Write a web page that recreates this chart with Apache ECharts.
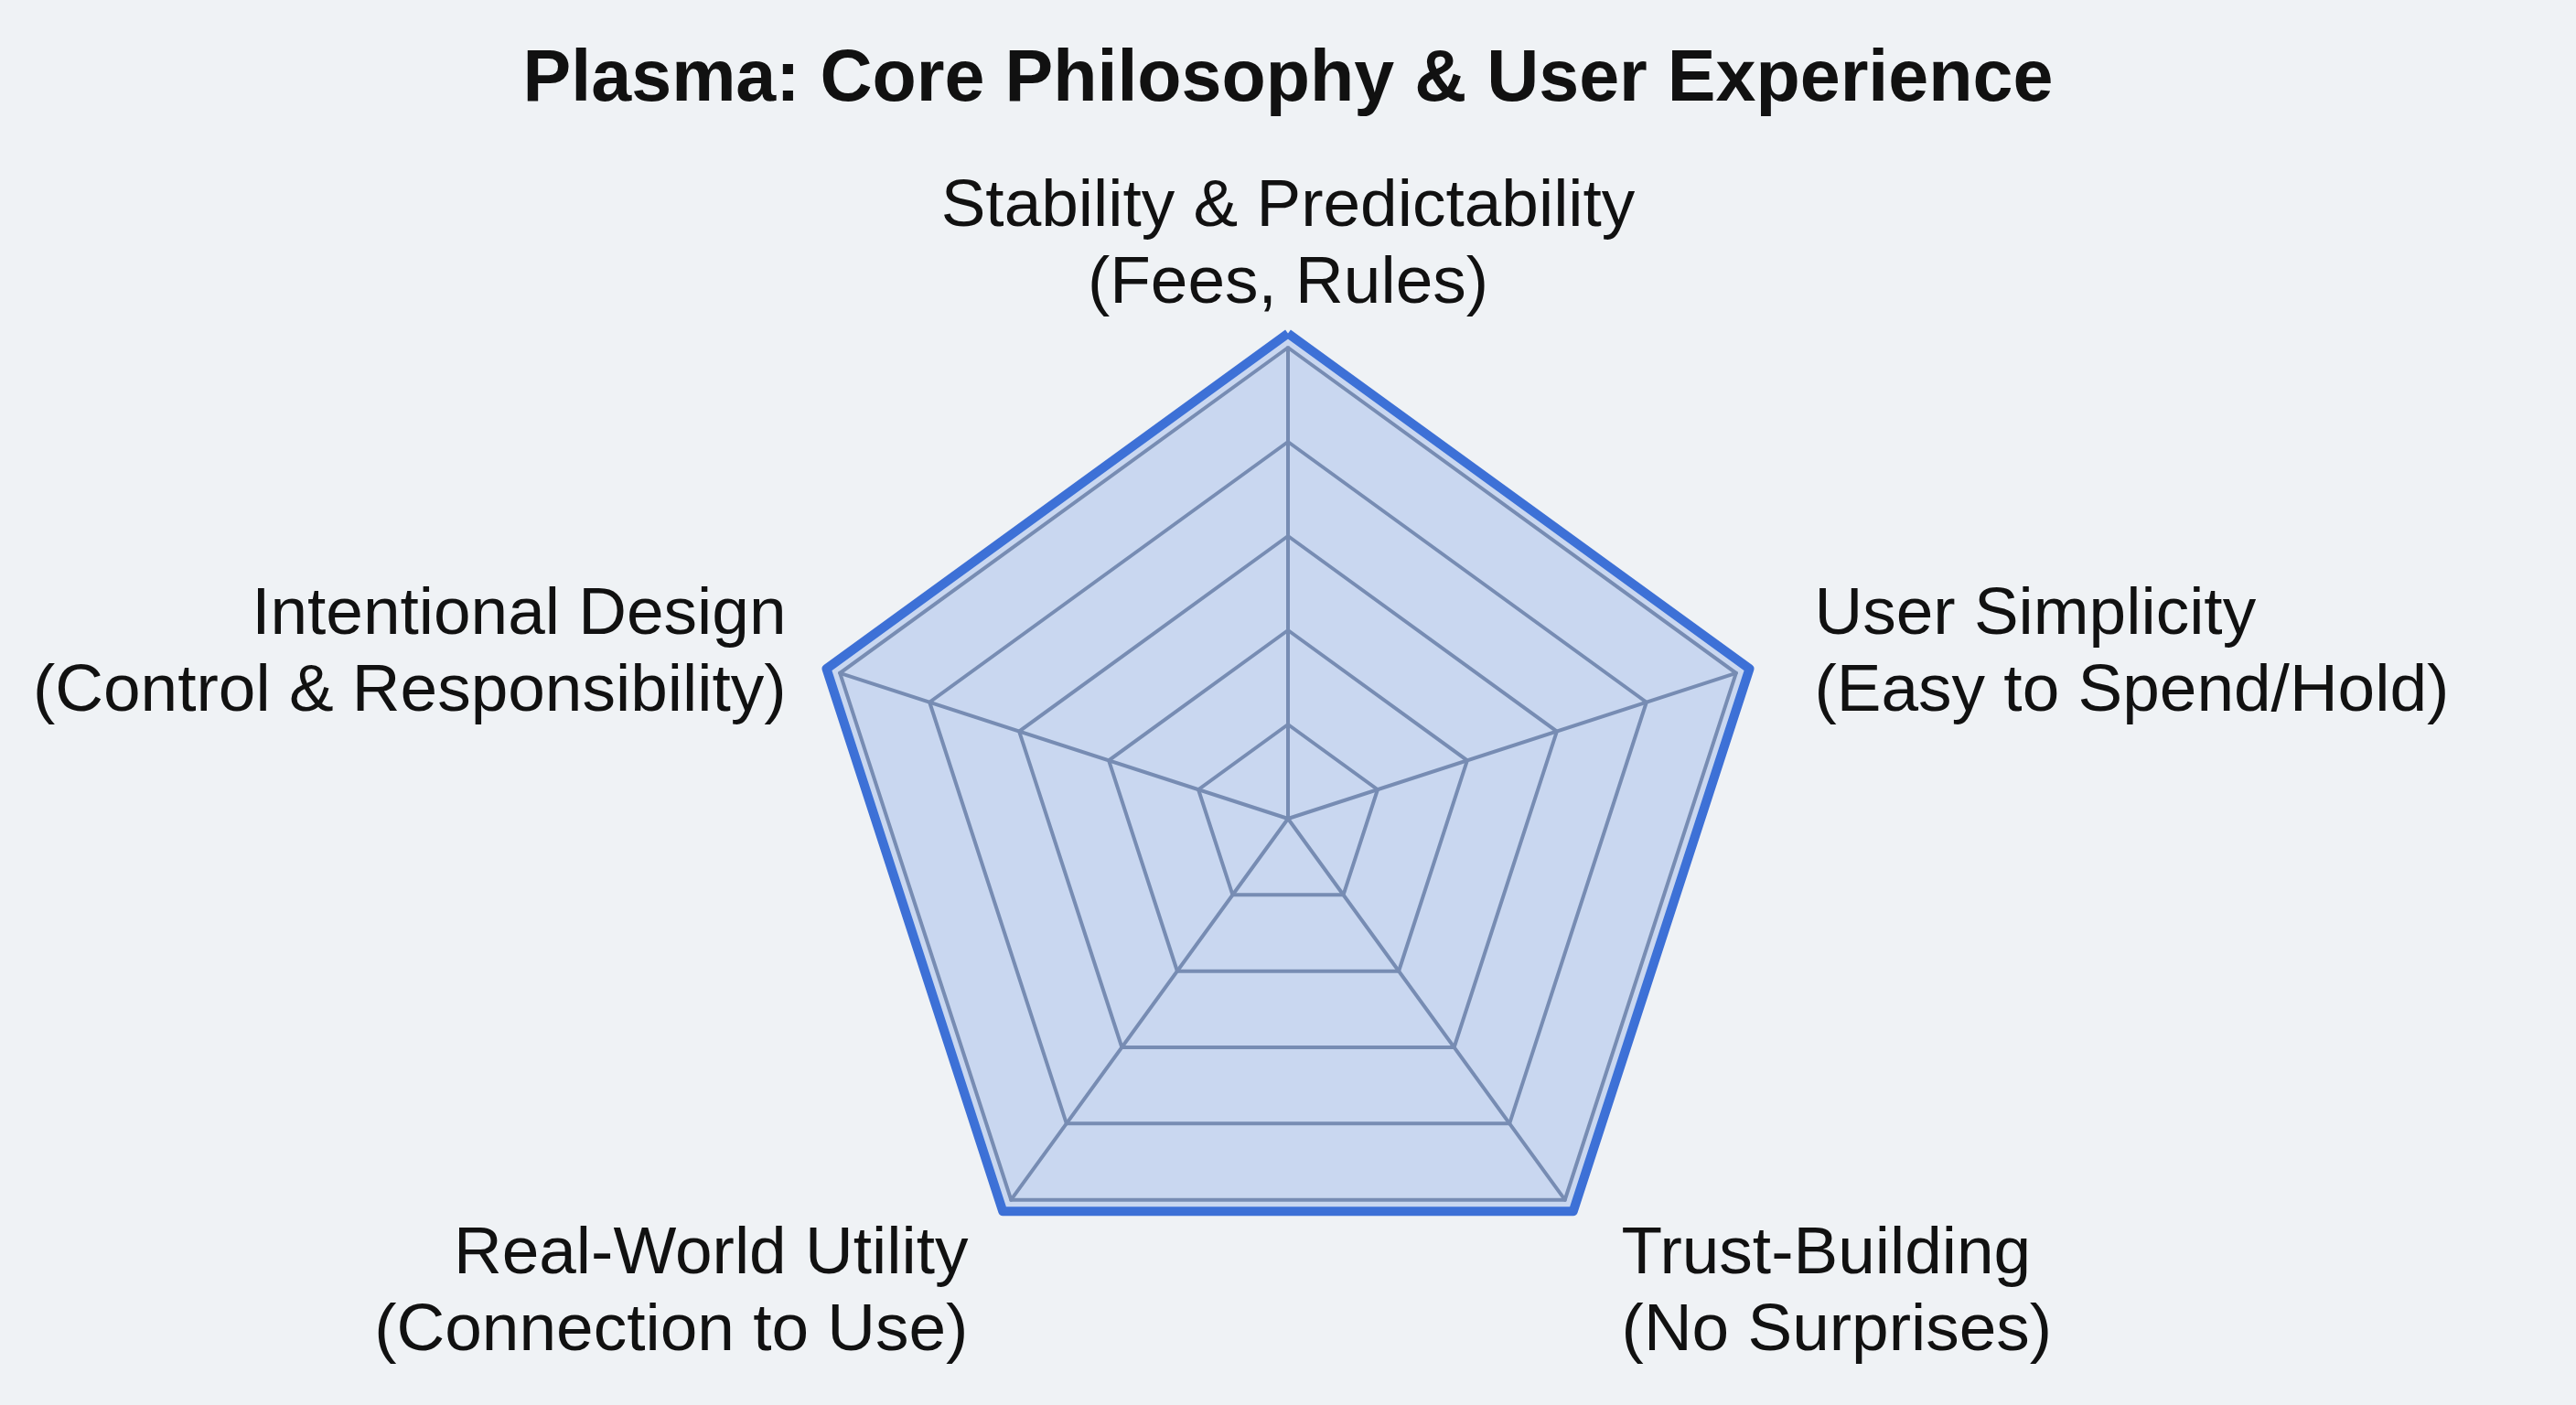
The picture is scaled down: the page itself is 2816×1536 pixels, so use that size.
<!DOCTYPE html>
<html>
<head>
<meta charset="utf-8">
<script src="https://cdn.jsdelivr.net/npm/echarts@6/dist/echarts.min.js"></script>
<style>
  html, body { margin: 0; padding: 0; background: #eff2f5; }
  #main { width: 2816px; height: 1536px; }
</style>
</head>
<body>
<div id="main"></div>
<script>
// indicators in the order echarts lays them out (top, then counter-clockwise)
var indicatorNames = [
  'Stability & Predictability\n(Fees, Rules)',
  'Intentional Design\n(Control & Responsibility)',
  'Real-World Utility\n(Connection to Use)',
  'Trust-Building\n(No Surprises)',
  'User Simplicity\n(Easy to Spend/Hold)'
];
var indicatorMax = [10, 10, 10, 10, 10];
var plasmaScores = [10.3, 10.3, 10.3, 10.3, 10.3];

// rich style key used for each indicator name (nudges the label a bit)
var labelKeys = ['top', 'left', 'bl', 'br', 'right'];

var myChart = echarts.init(document.getElementById('main'));

var indicators = [];
for (var i = 0; i < indicatorNames.length; i++) {
  indicators.push({ name: indicatorNames[i], max: indicatorMax[i], min: 0 });
}

function nameFormatter(name) {
  var k = labelKeys[indicatorNames.indexOf(name)] || 'top';
  var lines = name.split('\n').map(function (s) { return '{' + k + '|' + s + '}'; });
  if (k === 'bl' || k === 'br') lines.unshift('{gapBig| }');
  if (k === 'left' || k === 'right') lines.push('{gapSmall| }');
  return lines.join('\n');
}

var option = {
  backgroundColor: '#eff2f5',
  title: {
    text: 'Plasma: Core Philosophy & User Experience',
    left: 'center',
    top: 44,
    textStyle: {
      fontFamily: 'Liberation Sans',
      fontSize: 79,
      fontWeight: 'bold',
      color: '#111111'
    }
  },
  radar: {
    center: [1408, 895],
    radius: 515,
    startAngle: 90,
    splitNumber: 5,
    shape: 'polygon',
    nameGap: 27,
    axisName: {
      color: '#111111',
      fontFamily: 'Liberation Sans',
      fontSize: 73,
      lineHeight: 84,
      formatter: nameFormatter,
      rich: {
        top: { fontSize: 73, lineHeight: 84, color: '#111111' },
        left: { fontSize: 73, lineHeight: 84, color: '#111111', padding: [0, 33, 0, 0] },
        right: { fontSize: 73, lineHeight: 84, color: '#111111', padding: [0, 0, 0, 60] },
        bl: { fontSize: 73, lineHeight: 84, color: '#111111', padding: [0, 31, 0, 0] },
        br: { fontSize: 73, lineHeight: 84, color: '#111111', padding: [0, 0, 0, 46] },
        gapBig: { fontSize: 10, lineHeight: 160 },
        gapSmall: { fontSize: 10, lineHeight: 26 }
      }
    },
    splitArea: { show: false },
    splitLine: { lineStyle: { color: '#8793a8', width: 4 } },
    axisLine: { lineStyle: { color: '#8793a8', width: 4 } },
    indicator: indicators
  },
  series: [{
    type: 'radar',
    symbol: 'none',
    lineStyle: { color: '#3d70d6', width: 10 },
    areaStyle: { color: 'rgba(60,120,220,0.3)' },
    data: [{ value: plasmaScores, name: 'Plasma' }]
  }]
};

myChart.setOption(option);
</script>
</body>
</html>
